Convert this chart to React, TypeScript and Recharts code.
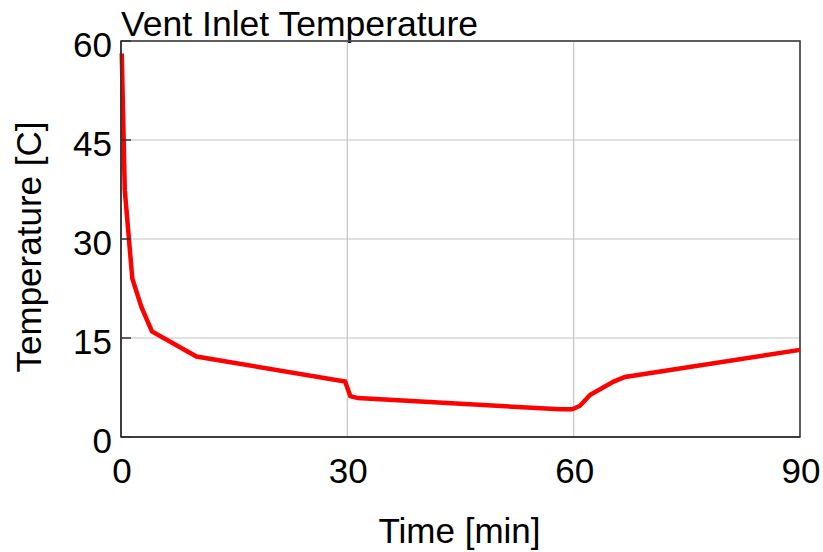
import React from "react";
import { LineChart, Line, XAxis, YAxis, CartesianGrid, ReferenceArea } from "recharts";

const timeMin = [0.1, 0.5, 1.5, 2.7, 4.1, 10, 29.7, 30.4, 31.4, 58.2, 59.8, 60.8, 62.2, 65.3, 66.8, 90];
const tempC = [58.1, 37.4, 24.0, 19.7, 16.0, 12.2, 8.4, 6.2, 5.9, 4.2, 4.2, 4.7, 6.4, 8.4, 9.1, 13.2];
const xTicks = [0, 30, 60, 90];
const yTicks = [0, 15, 30, 45, 60];
const title = "Vent Inlet Temperature";
const xLabel = "Time [min]";
const yLabel = "Temperature [C]";

const data = timeMin.map((t, i) => ({ t, T: tempC[i] }));

const FONT = "'Liberation Sans', Arial, sans-serif";

const YTick = (props: any) => {
  const { x, y, payload } = props;
  return (
    <g>
      <line x1={x} x2={x + 10} y1={y} y2={y} stroke="#333" strokeWidth={1.5} />
      <text x={x - 9} y={y + 16} textAnchor="end" fontSize={35} fontFamily={FONT} fill="#000">
        {payload.value}
      </text>
    </g>
  );
};

const XTick = (props: any) => {
  const { x, y, payload } = props;
  return (
    <text x={x + 1} y={y + 46} textAnchor="middle" fontSize={35} fontFamily={FONT} fill="#000">
      {payload.value}
    </text>
  );
};

export default function App() {
  return (
    <div style={{ position: "absolute", left: 0, top: 0, width: 823, height: 552, background: "#fff" }}>
      <svg width={823} height={60} style={{ position: "absolute", left: 0, top: 0 }}>
        <text x={121} y={36} fontSize={35} fontFamily={FONT} fill="#000" textLength={357} lengthAdjust="spacingAndGlyphs">{title}</text>
      </svg>
      <div style={{ position: "absolute", left: 0, top: 0 }}>
        <LineChart width={823} height={552} data={data} margin={{ top: 41, right: 23, bottom: 0, left: 0 }}>
          <CartesianGrid stroke="#c4c4c4" strokeWidth={1.2} />
          <XAxis
            type="number"
            dataKey="t"
            domain={[0, 90]}
            ticks={xTicks}
            height={115}
            tickSize={0}
            tickMargin={0}
            tick={<XTick />}
            axisLine={{ stroke: "#333", strokeWidth: 1.5 }}
            tickLine={false}
            label={{
              content: (p: any) => {
                const vb = p.viewBox;
                return (
                  <text x={vb.x + vb.width / 2 - 1} y={vb.y + 106} textAnchor="middle" fontSize={35} fontFamily={FONT} fill="#000">
                    {xLabel}
                  </text>
                );
              },
            }}
          />
          <YAxis
            type="number"
            domain={[0, 60]}
            ticks={yTicks}
            width={121}
            tickSize={0}
            tickMargin={0}
            tick={<YTick />}
            axisLine={{ stroke: "#333", strokeWidth: 1.5 }}
            tickLine={false}
            label={{
              content: (p: any) => {
                const vb = p.viewBox;
                const cx = 41;
                const cy = vb.y + vb.height / 2 + 8;
                return (
                  <text x={cx} y={cy} transform={`rotate(-90, ${cx}, ${cy})`} textAnchor="middle" fontSize={35} fontFamily={FONT} fill="#000">
                    {yLabel}
                  </text>
                );
              },
            }}
          />
          <ReferenceArea x1={0} x2={90} y1={0} y2={60} fill="none" stroke="#333" strokeWidth={1.5} ifOverflow="visible" />
          <Line type="linear" dataKey="T" stroke="#ff0000" strokeWidth={4.5} dot={false} isAnimationActive={false} />
        </LineChart>
      </div>
    </div>
  );
}
